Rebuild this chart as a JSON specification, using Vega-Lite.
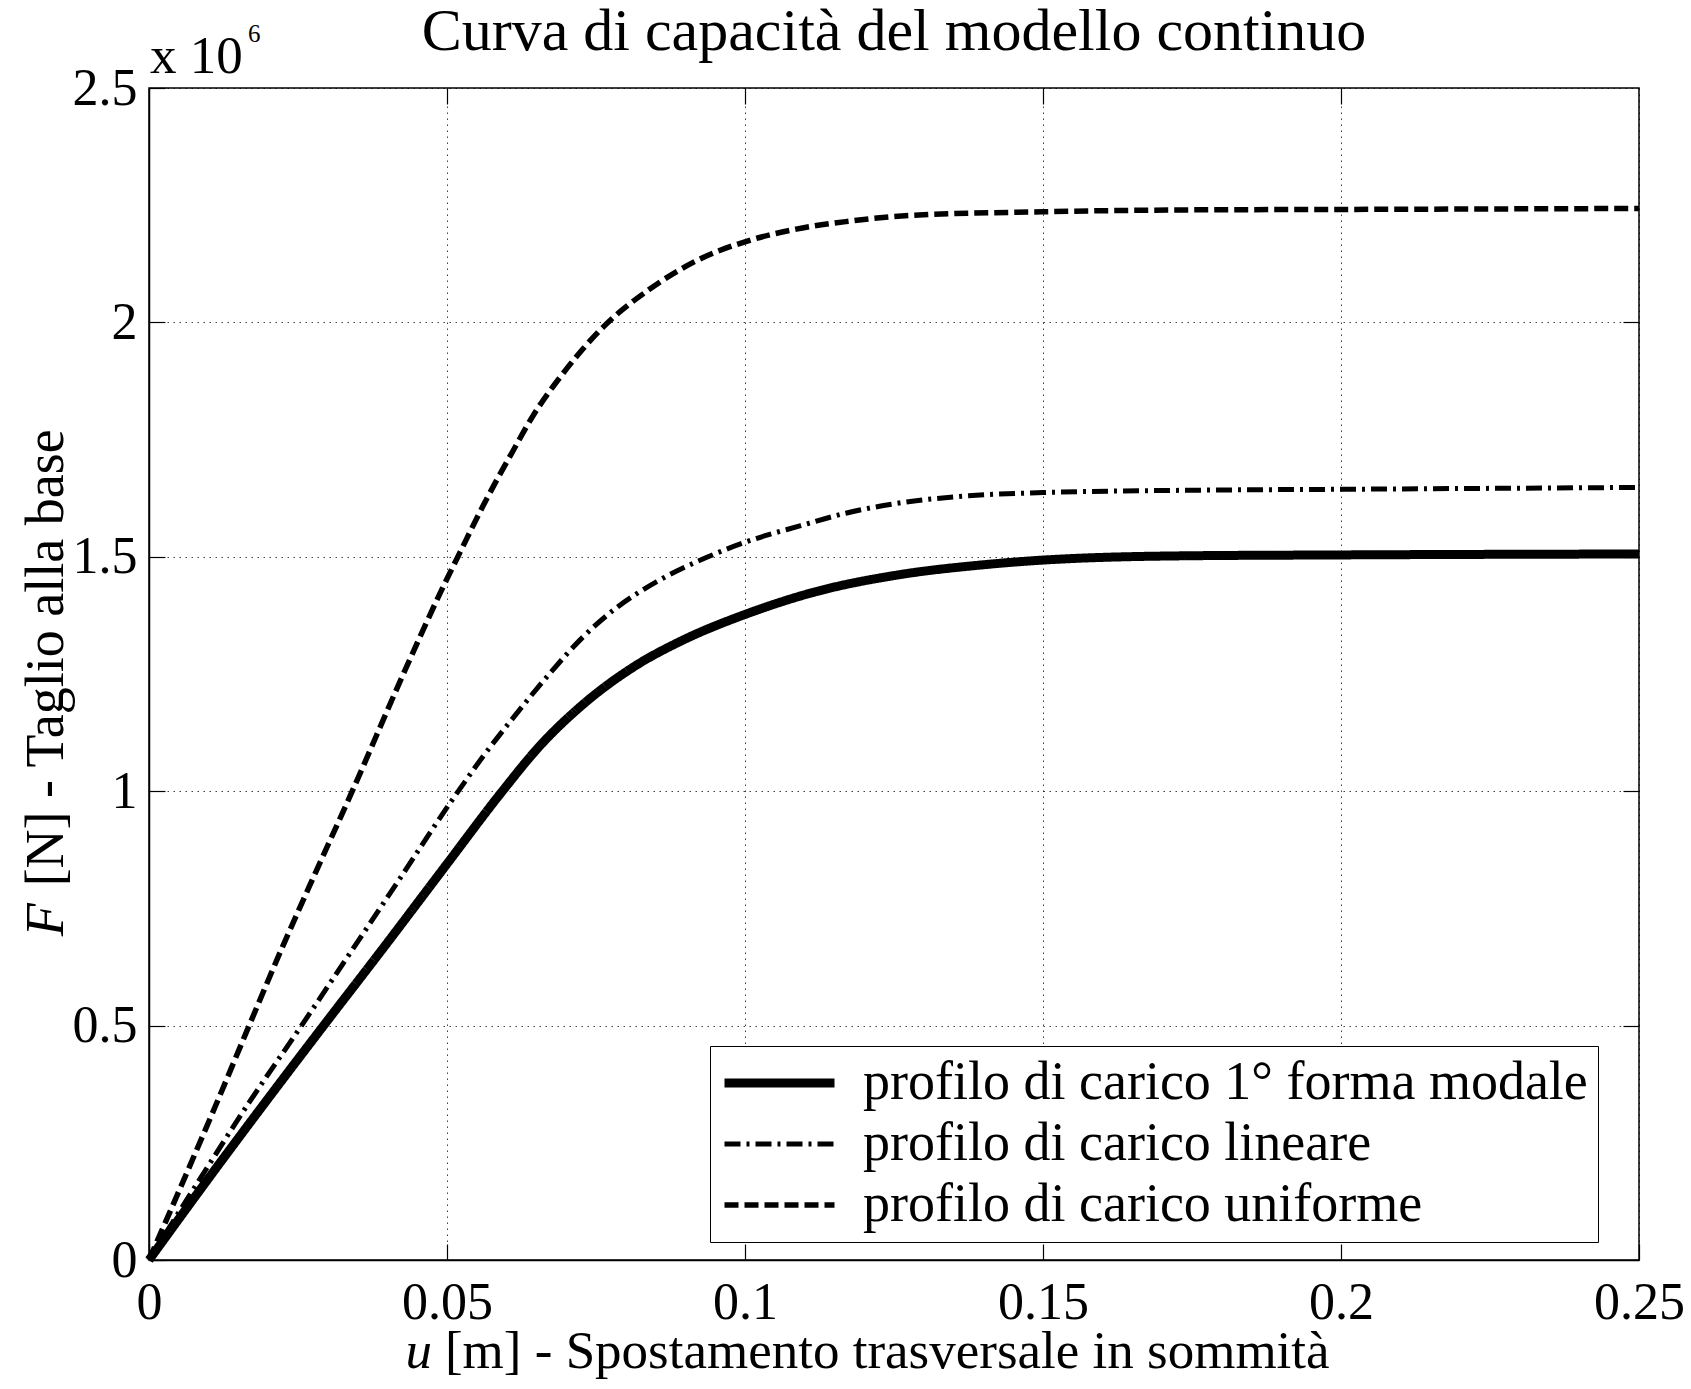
{
  "$schema": "https://vega.github.io/schema/vega-lite/v6.json",
  "width": 1490,
  "height": 1172,
  "autosize": {"type": "none"},
  "padding": {"left": 149, "top": 88, "right": 52, "bottom": 129},
  "background": "white",
  "config": {
    "view": {"stroke": "black", "strokeWidth": 1.5},
    "axis": {
      "labelFont": "Liberation Serif",
      "labelFontSize": 52,
      "labelColor": "black",
      "domainColor": "black",
      "domainWidth": 1.5,
      "tickColor": "black",
      "tickWidth": 1.2,
      "tickSize": -16,
      "gridColor": "black",
      "gridDash": [1.5, 4.5],
      "gridWidth": 1,
      "gridOpacity": 0.75,
      "labelFlush": false,
      "labelOverlap": false,
      "labelBound": false,
      "title": null
    },
    "text": {"font": "Liberation Serif", "color": "black"}
  },
  "layer": [
    {
      "data": {
        "values": [
          {"profilo": "profilo di carico 1° forma modale", "u": 0, "F": 0},
          {"profilo": "profilo di carico 1° forma modale", "u": 0.0112, "F": 195000},
          {"profilo": "profilo di carico 1° forma modale", "u": 0.0224, "F": 385000},
          {"profilo": "profilo di carico 1° forma modale", "u": 0.0296, "F": 505000},
          {"profilo": "profilo di carico 1° forma modale", "u": 0.0391, "F": 662000},
          {"profilo": "profilo di carico 1° forma modale", "u": 0.0503, "F": 850000},
          {"profilo": "profilo di carico 1° forma modale", "u": 0.0591, "F": 997000},
          {"profilo": "profilo di carico 1° forma modale", "u": 0.0656, "F": 1097000},
          {"profilo": "profilo di carico 1° forma modale", "u": 0.0729, "F": 1186000},
          {"profilo": "profilo di carico 1° forma modale", "u": 0.0813, "F": 1265000},
          {"profilo": "profilo di carico 1° forma modale", "u": 0.0897, "F": 1323000},
          {"profilo": "profilo di carico 1° forma modale", "u": 0.1, "F": 1377000},
          {"profilo": "profilo di carico 1° forma modale", "u": 0.112, "F": 1426000},
          {"profilo": "profilo di carico 1° forma modale", "u": 0.126, "F": 1462000},
          {"profilo": "profilo di carico 1° forma modale", "u": 0.14, "F": 1483000},
          {"profilo": "profilo di carico 1° forma modale", "u": 0.15, "F": 1493000},
          {"profilo": "profilo di carico 1° forma modale", "u": 0.173, "F": 1502000},
          {"profilo": "profilo di carico 1° forma modale", "u": 0.2, "F": 1504000},
          {"profilo": "profilo di carico 1° forma modale", "u": 0.25, "F": 1506000},

          {"profilo": "profilo di carico lineare", "u": 0, "F": 0},
          {"profilo": "profilo di carico lineare", "u": 0.0084, "F": 170000},
          {"profilo": "profilo di carico lineare", "u": 0.0168, "F": 336000},
          {"profilo": "profilo di carico lineare", "u": 0.0257, "F": 502000},
          {"profilo": "profilo di carico lineare", "u": 0.0336, "F": 652000},
          {"profilo": "profilo di carico lineare", "u": 0.0419, "F": 810000},
          {"profilo": "profilo di carico lineare", "u": 0.0508, "F": 980000},
          {"profilo": "profilo di carico lineare", "u": 0.0561, "F": 1075000},
          {"profilo": "profilo di carico lineare", "u": 0.0617, "F": 1166000},
          {"profilo": "profilo di carico lineare", "u": 0.0673, "F": 1252000},
          {"profilo": "profilo di carico lineare", "u": 0.0729, "F": 1330000},
          {"profilo": "profilo di carico lineare", "u": 0.0785, "F": 1392000},
          {"profilo": "profilo di carico lineare", "u": 0.0852, "F": 1447000},
          {"profilo": "profilo di carico lineare", "u": 0.0936, "F": 1499000},
          {"profilo": "profilo di carico lineare", "u": 0.1, "F": 1531000},
          {"profilo": "profilo di carico lineare", "u": 0.1092, "F": 1566000},
          {"profilo": "profilo di carico lineare", "u": 0.1169, "F": 1593000},
          {"profilo": "profilo di carico lineare", "u": 0.1255, "F": 1614000},
          {"profilo": "profilo di carico lineare", "u": 0.1375, "F": 1630000},
          {"profilo": "profilo di carico lineare", "u": 0.15, "F": 1637000},
          {"profilo": "profilo di carico lineare", "u": 0.175, "F": 1642000},
          {"profilo": "profilo di carico lineare", "u": 0.2, "F": 1644000},
          {"profilo": "profilo di carico lineare", "u": 0.25, "F": 1648000},

          {"profilo": "profilo di carico uniforme", "u": 0, "F": 0},
          {"profilo": "profilo di carico uniforme", "u": 0.0056, "F": 164000},
          {"profilo": "profilo di carico uniforme", "u": 0.0112, "F": 330000},
          {"profilo": "profilo di carico uniforme", "u": 0.0168, "F": 500000},
          {"profilo": "profilo di carico uniforme", "u": 0.0224, "F": 668000},
          {"profilo": "profilo di carico uniforme", "u": 0.028, "F": 828000},
          {"profilo": "profilo di carico uniforme", "u": 0.0341, "F": 1000000},
          {"profilo": "profilo di carico uniforme", "u": 0.0425, "F": 1245000},
          {"profilo": "profilo di carico uniforme", "u": 0.0495, "F": 1440000},
          {"profilo": "profilo di carico uniforme", "u": 0.0522, "F": 1510000},
          {"profilo": "profilo di carico uniforme", "u": 0.0561, "F": 1610000},
          {"profilo": "profilo di carico uniforme", "u": 0.0609, "F": 1722000},
          {"profilo": "profilo di carico uniforme", "u": 0.0644, "F": 1800000},
          {"profilo": "profilo di carico uniforme", "u": 0.0697, "F": 1895000},
          {"profilo": "profilo di carico uniforme", "u": 0.0762, "F": 1990000},
          {"profilo": "profilo di carico uniforme", "u": 0.0839, "F": 2070000},
          {"profilo": "profilo di carico uniforme", "u": 0.0929, "F": 2138000},
          {"profilo": "profilo di carico uniforme", "u": 0.1, "F": 2172000},
          {"profilo": "profilo di carico uniforme", "u": 0.1086, "F": 2199000},
          {"profilo": "profilo di carico uniforme", "u": 0.1169, "F": 2215000},
          {"profilo": "profilo di carico uniforme", "u": 0.1275, "F": 2228000},
          {"profilo": "profilo di carico uniforme", "u": 0.15, "F": 2236000},
          {"profilo": "profilo di carico uniforme", "u": 0.175, "F": 2240000},
          {"profilo": "profilo di carico uniforme", "u": 0.2, "F": 2241000},
          {"profilo": "profilo di carico uniforme", "u": 0.25, "F": 2243000}
        ]
      },
      "mark": {"type": "line", "color": "black", "strokeCap": "butt", "strokeJoin": "round", "interpolate": "monotone"},
      "encoding": {
        "x": {
          "field": "u", "type": "quantitative",
          "scale": {"domain": [0, 0.25], "nice": false, "zero": false},
          "axis": {
            "orient": "bottom",
            "values": [0, 0.05, 0.1, 0.15, 0.2, 0.25],
            "labelExpr": "format(datum.value, '~g')",
            "labelPadding": 33,
            "labelBaseline": "top",
            "grid": true
          }
        },
        "y": {
          "field": "F", "type": "quantitative",
          "scale": {"domain": [0, 2500000], "nice": false, "zero": false},
          "axis": {
            "orient": "left",
            "values": [0, 500000, 1000000, 1500000, 2000000, 2500000],
            "labelExpr": "datum.value / 1000000",
            "labelPadding": 28,
            "grid": true
          }
        },
        "strokeDash": {
          "field": "profilo", "type": "nominal",
          "scale": {
            "domain": ["profilo di carico 1° forma modale", "profilo di carico lineare", "profilo di carico uniforme"],
            "range": [[1, 0], [16, 6, 3, 6], [14, 6]]
          },
          "legend": {
            "title": null,
            "orient": "none",
            "legendX": 561,
            "legendY": 958,
            "symbolType": "stroke",
            "symbolSize": 12100,
            "symbolStrokeColor": "black",
            "clipHeight": 54,
            "labelFont": "Liberation Serif",
            "labelFontSize": 54,
            "labelColor": "black",
            "labelLimit": 0,
            "labelOffset": 24,
            "rowPadding": 7,
            "padding": 10,
            "strokeColor": "black",
            "fillColor": "white",
            "cornerRadius": 0
          }
        },
        "strokeWidth": {
          "field": "profilo", "type": "nominal",
          "scale": {
            "type": "ordinal",
            "domain": ["profilo di carico 1° forma modale", "profilo di carico lineare", "profilo di carico uniforme"],
            "range": [9, 5, 5.5]
          },
          "legend": {
            "title": null,
            "orient": "none",
            "legendX": 561,
            "legendY": 958,
            "symbolType": "stroke",
            "symbolSize": 12100,
            "symbolStrokeColor": "black",
            "clipHeight": 54,
            "labelFont": "Liberation Serif",
            "labelFontSize": 54,
            "labelColor": "black",
            "labelLimit": 0,
            "labelOffset": 24,
            "rowPadding": 7,
            "padding": 10,
            "strokeColor": "black",
            "fillColor": "white",
            "cornerRadius": 0
          }
        }
      }
    },
    {
      "data": {"values": [{}]},
      "mark": {"type": "text", "text": "Curva di capacità del modello continuo", "fontSize": 60, "align": "center", "baseline": "alphabetic", "dy": -38},
      "encoding": {
        "x": {
          "datum": 0.125, "type": "quantitative",
          "scale": {"domain": [0, 0.25], "nice": false, "zero": false},
          "axis": {"orient": "top", "values": [0.05, 0.1, 0.15, 0.2], "labels": false, "grid": false, "domain": false, "ticks": true}
        },
        "y": {
          "datum": 2500000, "type": "quantitative",
          "scale": {"domain": [0, 2500000], "nice": false, "zero": false},
          "axis": {"orient": "right", "values": [500000, 1000000, 1500000, 2000000], "labels": false, "grid": false, "domain": false, "ticks": true}
        }
      }
    },
    {
      "data": {"values": [{}]},
      "mark": {"type": "text", "text": "x 10", "fontSize": 53, "align": "left", "baseline": "alphabetic", "dx": 1, "dy": -15},
      "encoding": {
        "x": {"datum": 0, "type": "quantitative", "scale": {"domain": [0, 0.25], "nice": false, "zero": false}, "axis": null},
        "y": {"datum": 2500000, "type": "quantitative", "scale": {"domain": [0, 2500000], "nice": false, "zero": false}, "axis": null}
      }
    },
    {
      "data": {"values": [{}]},
      "mark": {"type": "text", "text": "6", "fontSize": 25, "align": "left", "baseline": "alphabetic", "dx": 99, "dy": -46},
      "encoding": {
        "x": {"datum": 0, "type": "quantitative", "scale": {"domain": [0, 0.25], "nice": false, "zero": false}, "axis": null},
        "y": {"datum": 2500000, "type": "quantitative", "scale": {"domain": [0, 2500000], "nice": false, "zero": false}, "axis": null}
      }
    },
    {
      "data": {"values": [{}]},
      "mark": {"type": "text", "text": "u", "fontSize": 53, "fontStyle": "italic", "align": "right", "baseline": "alphabetic", "dx": -13, "dy": 108},
      "encoding": {
        "x": {"datum": 0.04966, "type": "quantitative", "scale": {"domain": [0, 0.25], "nice": false, "zero": false}, "axis": null},
        "y": {"datum": 0, "type": "quantitative", "scale": {"domain": [0, 2500000], "nice": false, "zero": false}, "axis": null}
      }
    },
    {
      "data": {"values": [{}]},
      "mark": {"type": "text", "text": "[m] - Spostamento trasversale in sommità", "fontSize": 53, "align": "left", "baseline": "alphabetic", "dy": 108},
      "encoding": {
        "x": {"datum": 0.04966, "type": "quantitative", "scale": {"domain": [0, 0.25], "nice": false, "zero": false}, "axis": null},
        "y": {"datum": 0, "type": "quantitative", "scale": {"domain": [0, 2500000], "nice": false, "zero": false}, "axis": null}
      }
    },
    {
      "data": {"values": [{}]},
      "mark": {"type": "text", "text": "F", "fontSize": 54, "fontStyle": "italic", "angle": 270, "align": "right", "baseline": "alphabetic"},
      "encoding": {
        "x": {"datum": -0.01443, "type": "quantitative", "scale": {"domain": [0, 0.25], "nice": false, "zero": false}, "axis": null},
        "y": {"datum": 761000, "type": "quantitative", "scale": {"domain": [0, 2500000], "nice": false, "zero": false}, "axis": null}
      }
    },
    {
      "data": {"values": [{}]},
      "mark": {"type": "text", "text": "[N] - Taglio alla base", "fontSize": 54, "angle": 270, "align": "left", "baseline": "alphabetic"},
      "encoding": {
        "x": {"datum": -0.01443, "type": "quantitative", "scale": {"domain": [0, 0.25], "nice": false, "zero": false}, "axis": null},
        "y": {"datum": 797000, "type": "quantitative", "scale": {"domain": [0, 2500000], "nice": false, "zero": false}, "axis": null}
      }
    }
  ],
  "resolve": {"axis": {"x": "independent", "y": "independent"}}
}
